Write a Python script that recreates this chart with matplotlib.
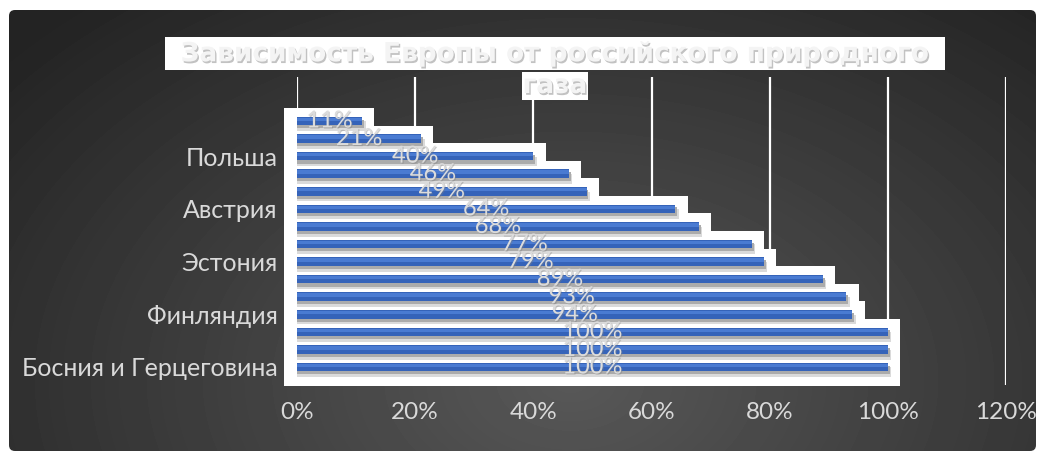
import matplotlib.pyplot as plt
import numpy as np
import matplotlib.patheffects as pe
from matplotlib.patches import FancyBboxPatch, Rectangle

# bottom -> top
countries = ['Босния и Герцеговина', 'Северная Македония', 'Молдавия', 'Финляндия',
             'Латвия', 'Сербия', 'Эстония', 'Болгария', 'Словакия', 'Австрия',
             'Венгрия', 'Словения', 'Польша', 'Италия', 'Нидерланды']
dependence = [100, 100, 100, 94, 93, 89, 79, 77, 68, 64, 49, 46, 40, 21, 11]
xticks = [0, 20, 40, 60, 80, 100, 120]
title_line1 = 'Зависимость Европы от российского природного'
title_line2 = 'газа'

W, H = 1040, 454
fig = plt.figure(figsize=(W / 100, H / 100), dpi=100)
fig.patch.set_facecolor('white')

# dark gradient background with rounded frame
bg = fig.add_axes([0, 0, 1, 1])
bg.set_xlim(0, W)
bg.set_ylim(H, 0)
bg.axis('off')
yy, xx = np.mgrid[0:H, 0:W]
d = np.sqrt(((xx - 570) / 680) ** 2 + ((yy - 380) / 460) ** 2)
shade = np.clip(0.345 - 0.19 * d, 0.14, 1)
img = bg.imshow(shade, cmap='gray', vmin=0, vmax=1, extent=(0, W, H, 0),
                interpolation='bilinear', aspect='auto')
frame = FancyBboxPatch((9, 10), 1027, 441, boxstyle='round,pad=0,rounding_size=6',
                       facecolor='none', edgecolor='none', transform=bg.transData)
bg.add_patch(frame)
img.set_clip_path(frame)

# main axes
ax = fig.add_axes([297 / W, (H - 385) / H, (1006 - 297) / W, (385 - 77) / H])
ax.patch.set_alpha(0)
pos = np.arange(len(countries))
vals = np.array(dependence)
row_px = (367 - 121) / 14
ax.set_xlim(0, 120)
ax.set_ylim(-18 / row_px, 14 + 44 / row_px)

ax.set_axisbelow(True)
ax.grid(axis='x', color='white', lw=1.6)
ax.grid(axis='y', visible=False)
for s in ax.spines.values():
    s.set_visible(False)

# white step boxes behind bars
boxes = ax.barh(pos - 0.17, vals + 4.3, left=-2.2, height=1.82, color='white', zorder=1)
for b in boxes:
    b.set_clip_on(False)

# shadow, bar, highlight
ax.barh(pos - 0.3, vals + 0.6, height=0.55, color='#dadada', zorder=2)
ax.barh(pos - 0.17, vals + 0.3, height=0.5, color='#ababab', zorder=2)
ax.barh(pos, vals, height=0.48, color='#3563b9', zorder=3)
ax.barh(pos + 0.09, vals, height=0.2, color='#4a7bd2', zorder=3)

for p, v in zip(pos, vals):
    ax.text(v / 2, p, f'{v}%', ha='center', va='center', color='#dcdcdc',
            fontsize=17, family='Lato', zorder=5,
            path_effects=[pe.withSimplePatchShadow(offset=(0.8, -0.8),
                                                   shadow_rgbFace='#808080', alpha=0.4)])

ax.set_xticks(xticks)
ax.set_xticklabels([f'{t}%' for t in xticks], color='#d9d9d9', fontsize=17.5, family='Lato')
ax.set_yticks(pos[::3])
ax.set_yticklabels(countries[::3], color='#d9d9d9', fontsize=18, family='Lato')
ax.tick_params(axis='both', length=0)
ax.tick_params(axis='y', pad=14)
ax.tick_params(axis='x', pad=12)

# title with white boxes
bg.add_patch(Rectangle((165, 37), 780, 33, facecolor='white', edgecolor='none', zorder=5))
bg.add_patch(Rectangle((522, 72), 66, 28, facecolor='white', edgecolor='none', zorder=5))
shadow = [pe.withSimplePatchShadow(offset=(1.0, -1.3), shadow_rgbFace='#909090', alpha=0.55)]
fig.text(555 / W, 1 - 54 / H, title_line1, ha='center', va='center', color='#f4f4f4',
         fontsize=19, fontweight='bold', family='DejaVu Sans', path_effects=shadow, zorder=6)
fig.text(555 / W, 1 - 86 / H, title_line2, ha='center', va='center', color='#f4f4f4',
         fontsize=19, fontweight='bold', family='DejaVu Sans', path_effects=shadow, zorder=6)

fig.savefig('out.png', dpi=100, facecolor='white')
